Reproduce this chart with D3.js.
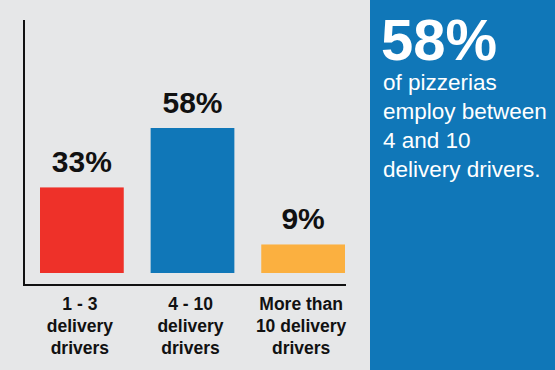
<!DOCTYPE html>
<html><head><meta charset="utf-8">
<script src="https://cdn.jsdelivr.net/npm/d3@7"></script>
<style>html,body{margin:0;padding:0;background:#e6e7e8;}svg{display:block;}</style>
</head><body>
<script>
const categories = [["1 - 3","delivery","drivers"],["4 - 10","delivery","drivers"],["More than","10 delivery","drivers"]];
const values = [33, 58, 9];
const valueLabels = ["33%", "58%", "9%"];
const colors = ["#ee3129", "#1077b8", "#fbb040"];
const calloutBig = "58%";
const calloutLines = ["of pizzerias", "employ between", "4 and 10", "delivery drivers."];

const W = 555, H = 370;
const svg = d3.select("body").append("svg").attr("width", W).attr("height", H);
svg.append("rect").attr("width", W).attr("height", H).attr("fill", "#e6e7e8");

const font = "'Liberation Sans', Arial, sans-serif";
const x = d3.scaleBand().domain(d3.range(values.length)).range([40, 345]).paddingInner(0.243).paddingOuter(0);
const y = d3.scaleLinear().domain([-3, 58]).range([273, 128]);

// axes lines
svg.append("line").attr("x1", 24).attr("x2", 24).attr("y1", 20).attr("y2", 286).attr("stroke", "#111").attr("stroke-width", 2);
svg.append("line").attr("x1", 23).attr("x2", 346).attr("y1", 285).attr("y2", 285).attr("stroke", "#111").attr("stroke-width", 2);

svg.selectAll("rect.bar").data(values).join("rect").attr("class", "bar")
  .attr("x", (d, i) => x(i)).attr("width", x.bandwidth())
  .attr("y", d => y(d)).attr("height", d => y(-3) - y(d))
  .attr("fill", (d, i) => colors[i]);

svg.selectAll("text.val").data(values).join("text").attr("class", "val")
  .attr("x", (d, i) => x(i) + x.bandwidth() / 2).attr("y", d => y(d) - 15)
  .attr("text-anchor", "middle").attr("font-family", font).attr("font-weight", "bold")
  .attr("font-size", 30).attr("fill", "#111").text((d, i) => valueLabels[i]);

categories.forEach((lines, i) => {
  const t = svg.append("text").attr("text-anchor", "middle").attr("font-family", font)
    .attr("font-weight", "bold").attr("font-size", 17.5).attr("fill", "#111");
  lines.forEach((l, j) => {
    t.append("tspan").attr("x", x(i) + x.bandwidth() / 2 - 2).attr("y", 310 + j * 22).text(l);
  });
});

// callout panel
svg.append("rect").attr("x", 370).attr("y", 0).attr("width", 185).attr("height", H).attr("fill", "#1077b8");
svg.append("text").attr("x", 381).attr("y", 60).attr("font-family", font).attr("font-weight", "bold")
  .attr("font-size", 58).attr("fill", "#fff").text(calloutBig);
calloutLines.forEach((l, j) => {
  svg.append("text").attr("x", 383).attr("y", 90 + j * 29).attr("font-family", font)
    .attr("font-size", 22.5).attr("fill", "#fff").text(l);
});
</script>
</body></html>
